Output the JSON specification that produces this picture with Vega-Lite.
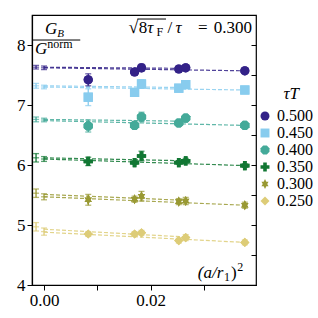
{
"$schema":"https://vega.github.io/schema/vega-lite/v6.json",
"width":224,"height":270,
"autosize":{"type":"none"},
"padding":{"left":32,"top":15,"right":62,"bottom":33},
"datasets":{
"pts":[
{"T":"0.500","k":"a","x":-0.0015,"y":7.63,"e":0.03},{"T":"0.500","k":"b","x":0,"y":7.62,"e":0.03},{"T":"0.500","k":"p","x":0.0083,"y":7.42,"e":0.1},{"T":"0.500","k":"p","x":0.017,"y":7.55,"e":0.02},{"T":"0.500","k":"p","x":0.0183,"y":7.62,"e":0.06},{"T":"0.500","k":"p","x":0.0253,"y":7.6,"e":0.03},{"T":"0.500","k":"p","x":0.0266,"y":7.62,"e":0.03},{"T":"0.500","k":"p","x":0.0377,"y":7.57,"e":0.02},
{"T":"0.450","k":"a","x":-0.0015,"y":7.32,"e":0.04},{"T":"0.450","k":"b","x":0,"y":7.3,"e":0.03},{"T":"0.450","k":"p","x":0.0083,"y":7.13,"e":0.14},{"T":"0.450","k":"p","x":0.017,"y":7.21,"e":0.03},{"T":"0.450","k":"p","x":0.0183,"y":7.35,"e":0.07},{"T":"0.450","k":"p","x":0.0253,"y":7.28,"e":0.03},{"T":"0.450","k":"p","x":0.0266,"y":7.34,"e":0.05},{"T":"0.450","k":"p","x":0.0377,"y":7.25,"e":0.03},
{"T":"0.400","k":"a","x":-0.0015,"y":6.76,"e":0.04},{"T":"0.400","k":"b","x":0,"y":6.75,"e":0.03},{"T":"0.400","k":"p","x":0.0083,"y":6.65,"e":0.1},{"T":"0.400","k":"p","x":0.017,"y":6.66,"e":0.03},{"T":"0.400","k":"p","x":0.0183,"y":6.8,"e":0.08},{"T":"0.400","k":"p","x":0.0253,"y":6.7,"e":0.04},{"T":"0.400","k":"p","x":0.0266,"y":6.78,"e":0.05},{"T":"0.400","k":"p","x":0.0377,"y":6.66,"e":0.03},
{"T":"0.350","k":"a","x":-0.0015,"y":6.12,"e":0.07},{"T":"0.350","k":"b","x":0,"y":6.1,"e":0.04},{"T":"0.350","k":"p","x":0.0083,"y":6.06,"e":0.07},{"T":"0.350","k":"p","x":0.017,"y":6.04,"e":0.03},{"T":"0.350","k":"p","x":0.0183,"y":6.15,"e":0.08},{"T":"0.350","k":"p","x":0.0253,"y":6.04,"e":0.03},{"T":"0.350","k":"p","x":0.0266,"y":6.07,"e":0.04},{"T":"0.350","k":"p","x":0.0377,"y":5.99,"e":0.03},
{"T":"0.300","k":"a","x":-0.0015,"y":5.53,"e":0.07},{"T":"0.300","k":"b","x":0,"y":5.47,"e":0.05},{"T":"0.300","k":"p","x":0.0083,"y":5.42,"e":0.09},{"T":"0.300","k":"p","x":0.017,"y":5.43,"e":0.05},{"T":"0.300","k":"p","x":0.0183,"y":5.48,"e":0.08},{"T":"0.300","k":"p","x":0.0253,"y":5.39,"e":0.05},{"T":"0.300","k":"p","x":0.0266,"y":5.4,"e":0.06},{"T":"0.300","k":"p","x":0.0377,"y":5.33,"e":0.05},
{"T":"0.250","k":"a","x":-0.0015,"y":4.97,"e":0.07},{"T":"0.250","k":"b","x":0,"y":4.89,"e":0.06},{"T":"0.250","k":"p","x":0.0083,"y":4.85,"e":0.04},{"T":"0.250","k":"p","x":0.017,"y":4.85,"e":0.04},{"T":"0.250","k":"p","x":0.0183,"y":4.87,"e":0.04},{"T":"0.250","k":"p","x":0.0253,"y":4.74,"e":0.04},{"T":"0.250","k":"p","x":0.0266,"y":4.79,"e":0.05},{"T":"0.250","k":"p","x":0.0377,"y":4.71,"e":0.04}
],
"fits":[
{"T":"0.500","f":"1","x":0,"y":7.62},{"T":"0.500","f":"1","x":0.0377,"y":7.57},{"T":"0.500","f":"2","x":0,"y":7.63},{"T":"0.500","f":"2","x":0.0266,"y":7.61},
{"T":"0.450","f":"1","x":0,"y":7.3},{"T":"0.450","f":"1","x":0.0377,"y":7.25},{"T":"0.450","f":"2","x":0,"y":7.32},{"T":"0.450","f":"2","x":0.0266,"y":7.29},
{"T":"0.400","f":"1","x":0,"y":6.74},{"T":"0.400","f":"1","x":0.0377,"y":6.66},{"T":"0.400","f":"2","x":0,"y":6.76},{"T":"0.400","f":"2","x":0.0266,"y":6.73},
{"T":"0.350","f":"1","x":0,"y":6.1},{"T":"0.350","f":"1","x":0.0377,"y":5.99},{"T":"0.350","f":"2","x":0,"y":6.12},{"T":"0.350","f":"2","x":0.0266,"y":6.07},
{"T":"0.300","f":"1","x":0,"y":5.47},{"T":"0.300","f":"1","x":0.0377,"y":5.33},{"T":"0.300","f":"2","x":0,"y":5.51},{"T":"0.300","f":"2","x":0.0266,"y":5.41},
{"T":"0.250","f":"1","x":0,"y":4.88},{"T":"0.250","f":"1","x":0.0377,"y":4.71},{"T":"0.250","f":"2","x":0,"y":4.93},{"T":"0.250","f":"2","x":0.0266,"y":4.8}
]
},
"config":{
"view":{"stroke":"#000","strokeWidth":1.2},
"font":"Liberation Serif",
"axis":{"domainColor":"#000","domainWidth":1.2,"tickColor":"#000","tickWidth":1,"labelColor":"#000","labelFont":"Liberation Serif","labelFontSize":17,"grid":false},
"axisX":{"tickSize":5,"labelPadding":2,"labelFlush":false},
"axisY":{"tickSize":5,"labelPadding":2},
"legend":{"labelFont":"Liberation Serif","labelFontSize":16,"labelColor":"#000","symbolSize":80,"rowPadding":1,"labelOffset":4,"padding":0,"symbolStrokeWidth":0}
},
"layer":[
{
"layer":[
{"data":{"name":"pts"},"transform":[{"filter":"datum.k=='p'"}],"mark":{"type":"point","filled":true,"size":85,"opacity":1},
 "encoding":{
 "x":{"field":"x","type":"quantitative","title":null,"scale":{"domain":[-0.00226,0.0398],"nice":false,"zero":false},"axis":{"values":[0,0.01,0.02,0.03],"labelExpr":"(abs(datum.value-0.01)<1e-6||abs(datum.value-0.03)<1e-6)?'':format(datum.value,'.2f')","title":null}},
 "y":{"field":"y","type":"quantitative","title":null,"scale":{"domain":[4,8.5],"nice":false,"zero":false},"axis":{"values":[4,4.5,5,5.5,6,6.5,7,7.5,8],"labelExpr":"datum.value%1==0?format(datum.value,'d'):''","title":null}},
 "color":{"field":"T","type":"nominal","scale":{"domain":["0.500","0.450","0.400","0.350","0.300","0.250"],"range":["#332288","#88CCEE","#44AA99","#117733","#999933","#DDCC77"]},"legend":{"title":null,"orient":"none","legendX":225,"legendY":93}},
 "shape":{"field":"T","type":"nominal","scale":{"domain":["0.500","0.450","0.400","0.350","0.300","0.250"],"range":["circle","square","M-0.41,-1L0.41,-1L1,-0.41L1,0.41L0.41,1L-0.41,1L-1,0.41L-1,-0.41Z","cross","M0,-1.1L0.3,-0.5L0.8,-0.5L0.5,0L0.8,0.5L0.3,0.5L0,1.1L-0.3,0.5L-0.8,0.5L-0.5,0L-0.8,-0.5L-0.3,-0.5Z","diamond"]},"legend":{"title":null,"orient":"none","legendX":225,"legendY":93}}
 }},
{"data":{"name":"fits"},"mark":{"type":"line","strokeDash":[4,2],"strokeWidth":1.2,"opacity":0.85},
 "encoding":{
 "x":{"field":"x","type":"quantitative","title":null},
 "y":{"field":"y","type":"quantitative","title":null},
 "detail":{"field":"f"},"color":{"field":"T","type":"nominal","legend":{"title":null,"orient":"none","legendX":225,"legendY":93}}}},
{"data":{"name":"pts"},"mark":{"type":"errorbar","ticks":{"size":6},"thickness":1.3},
 "encoding":{"x":{"field":"x","type":"quantitative","title":null},"y":{"field":"y","type":"quantitative","title":null},"yError":{"field":"e"},"color":{"field":"T","type":"nominal","legend":{"title":null,"orient":"none","legendX":225,"legendY":93}}}},
{"data":{"name":"pts"},"transform":[{"filter":"datum.k!='p'"}],"mark":{"type":"tick","orient":"horizontal","size":6,"thickness":1.3},
 "encoding":{"x":{"field":"x","type":"quantitative","title":null},"y":{"field":"y","type":"quantitative","title":null},"color":{"field":"T","type":"nominal","legend":{"title":null,"orient":"none","legendX":225,"legendY":93}}}},
{"data":{"name":"pts"},"transform":[{"filter":"datum.k=='p'"}],"mark":{"type":"point","filled":true,"size":85,"opacity":1},
 "encoding":{
 "x":{"field":"x","type":"quantitative","title":null},"y":{"field":"y","type":"quantitative","title":null},
 "color":{"field":"T","type":"nominal","legend":{"title":null,"orient":"none","legendX":225,"legendY":93}},
 "shape":{"field":"T","type":"nominal","legend":{"title":null,"orient":"none","legendX":225,"legendY":93}}
 }},
{"data":{"values":[{"a":1}]},"mark":{"type":"text","text":"τT","fontStyle":"italic","font":"Liberation Serif","fontSize":17,"baseline":"alphabetic","align":"center","color":"#000"},"encoding":{"x":{"datum":0.0464,"type":"quantitative"},"y":{"datum":7.1,"type":"quantitative"}}},
{"data":{"values":[{"a":1}]},"mark":{"type":"text","text":"G","fontStyle":"italic","font":"Liberation Serif","fontSize":17,"baseline":"alphabetic","align":"left","color":"#000"},"encoding":{"x":{"datum":0.0002,"type":"quantitative"},"y":{"datum":8.18,"type":"quantitative"}}},
{"data":{"values":[{"a":1}]},"mark":{"type":"text","text":"B","fontStyle":"italic","font":"Liberation Serif","fontSize":11,"baseline":"alphabetic","align":"left","color":"#000"},"encoding":{"x":{"datum":0.0025,"type":"quantitative"},"y":{"datum":8.14,"type":"quantitative"}}},
{"data":{"values":[{"a":1}]},"mark":{"type":"rule","strokeWidth":1,"color":"#000"},"encoding":{"x":{"datum":-0.0021,"type":"quantitative"},"x2":{"datum":0.0068},"y":{"datum":8.083,"type":"quantitative"}}},
{"data":{"values":[{"a":1}]},"mark":{"type":"text","text":"G","fontStyle":"italic","font":"Liberation Serif","fontSize":17,"baseline":"alphabetic","align":"left","color":"#000"},"encoding":{"x":{"datum":-0.0017,"type":"quantitative"},"y":{"datum":7.85,"type":"quantitative"}}},
{"data":{"values":[{"a":1}]},"mark":{"type":"text","text":"norm","font":"Liberation Serif","fontSize":12,"baseline":"alphabetic","align":"left","color":"#000"},"encoding":{"x":{"datum":0.0006,"type":"quantitative"},"y":{"datum":7.95,"type":"quantitative"}}},
{"data":{"values":[{"a":1}]},"mark":{"type":"text","text":"√","font":"Liberation Serif","fontSize":18,"baseline":"alphabetic","align":"left","color":"#000"},"encoding":{"x":{"datum":0.01585,"type":"quantitative"},"y":{"datum":8.2,"type":"quantitative"}}},
{"data":{"values":[{"a":1}]},"mark":{"type":"text","text":"8","font":"Liberation Serif","fontSize":17,"baseline":"alphabetic","align":"left","color":"#000"},"encoding":{"x":{"datum":0.0178,"type":"quantitative"},"y":{"datum":8.2,"type":"quantitative"}}},
{"data":{"values":[{"a":1}]},"mark":{"type":"text","text":"τ","fontStyle":"italic","font":"Liberation Serif","fontSize":17,"baseline":"alphabetic","align":"left","color":"#000"},"encoding":{"x":{"datum":0.0194,"type":"quantitative"},"y":{"datum":8.2,"type":"quantitative"}}},
{"data":{"values":[{"a":1}]},"mark":{"type":"text","text":"F","font":"Liberation Serif","fontSize":12,"baseline":"alphabetic","align":"left","color":"#000"},"encoding":{"x":{"datum":0.0211,"type":"quantitative"},"y":{"datum":8.15,"type":"quantitative"}}},
{"data":{"values":[{"a":1}]},"mark":{"type":"rule","strokeWidth":1,"color":"#000"},"encoding":{"x":{"datum":0.01755,"type":"quantitative"},"x2":{"datum":0.0229},"y":{"datum":8.433,"type":"quantitative"}}},
{"data":{"values":[{"a":1}]},"mark":{"type":"text","text":"/","font":"Liberation Serif","fontSize":17,"baseline":"alphabetic","align":"left","color":"#000"},"encoding":{"x":{"datum":0.0232,"type":"quantitative"},"y":{"datum":8.2,"type":"quantitative"}}},
{"data":{"values":[{"a":1}]},"mark":{"type":"text","text":"τ","fontStyle":"italic","font":"Liberation Serif","fontSize":17,"baseline":"alphabetic","align":"left","color":"#000"},"encoding":{"x":{"datum":0.0247,"type":"quantitative"},"y":{"datum":8.2,"type":"quantitative"}}},
{"data":{"values":[{"a":1}]},"mark":{"type":"text","text":"=","font":"Liberation Serif","fontSize":17,"baseline":"alphabetic","align":"left","color":"#000"},"encoding":{"x":{"datum":0.0289,"type":"quantitative"},"y":{"datum":8.2,"type":"quantitative"}}},
{"data":{"values":[{"a":1}]},"mark":{"type":"text","text":"0.300","font":"Liberation Serif","fontSize":17,"baseline":"alphabetic","align":"right","color":"#000"},"encoding":{"x":{"datum":0.03906,"type":"quantitative"},"y":{"datum":8.2,"type":"quantitative"}}},
{"data":{"values":[{"a":1}]},"mark":{"type":"text","text":"(a/r","fontStyle":"italic","font":"Liberation Serif","fontSize":17,"baseline":"alphabetic","align":"left","color":"#000"},"encoding":{"x":{"datum":0.02887,"type":"quantitative"},"y":{"datum":4.117,"type":"quantitative"}}},
{"data":{"values":[{"a":1}]},"mark":{"type":"text","text":"1","font":"Liberation Serif","fontSize":12,"baseline":"alphabetic","align":"left","color":"#000"},"encoding":{"x":{"datum":0.03377,"type":"quantitative"},"y":{"datum":4.067,"type":"quantitative"}}},
{"data":{"values":[{"a":1}]},"mark":{"type":"text","text":")","font":"Liberation Serif","fontSize":17,"baseline":"alphabetic","align":"left","color":"#000"},"encoding":{"x":{"datum":0.0351,"type":"quantitative"},"y":{"datum":4.117,"type":"quantitative"}}},
{"data":{"values":[{"a":1}]},"mark":{"type":"text","text":"2","font":"Liberation Serif","fontSize":12,"baseline":"alphabetic","align":"left","color":"#000"},"encoding":{"x":{"datum":0.0363,"type":"quantitative"},"y":{"datum":4.233,"type":"quantitative"}}}
]
},
{
"data":{"values":[{"a":1}]},
"mark":{"type":"point","opacity":0},
"encoding":{"y":{"datum":6,"type":"quantitative","scale":{"domain":[4,8.5],"nice":false,"zero":false},"axis":{"orient":"right","values":[4,4.5,5,5.5,6,6.5,7,7.5,8],"labels":false,"tickSize":-5,"domain":false,"title":null}}}
}
],
"resolve":{"axis":{"y":"independent"}}
}
